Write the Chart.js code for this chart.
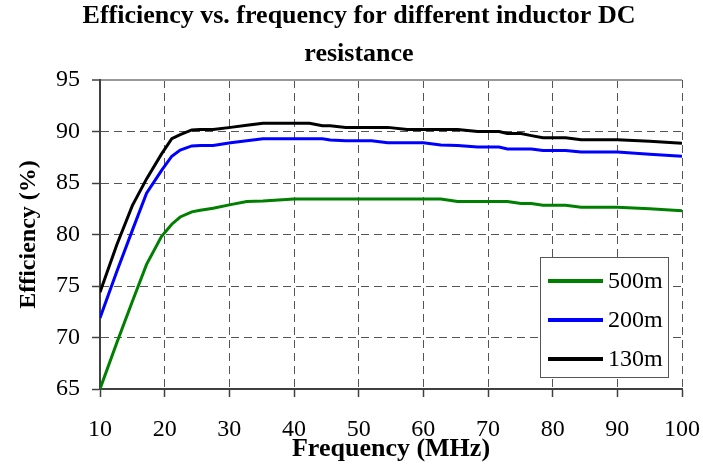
<!DOCTYPE html>
<html>
<head>
<meta charset="utf-8">
<script src="https://cdn.jsdelivr.net/npm/chart.js@4"></script>
<style>
  html, body { margin: 0; padding: 0; background: #fff; }
  #wrap { width: 703px; height: 466px; }
</style>
</head>
<body>
<div id="wrap"><canvas id="c" width="703" height="466"></canvas></div>
<script>
// ---- data ----
const titleLines = ["Efficiency vs. frequency for different inductor DC", "resistance"];
const xTitle = "Frequency (MHz)";
const yTitle = "Efficiency (%)";
const seriesNames = ["500m", "200m", "130m"];
const seriesColors = ["#008000", "#0000ff", "#000000"];

const freq = [10, 12.6, 15, 17.2, 19.5, 21.1, 22.4, 24.2, 25.5, 27.5,
              30.2, 32.7, 35.2, 40, 42.4, 44.4, 45.6, 48, 52, 54.5,
              57.5, 60, 62.7, 65.3, 68.4, 71.7, 73, 75.1, 76.7, 78.5,
              82, 84.4, 90, 95, 100];

const eff500 = [65, 69.5, 73.5, 77.1, 79.8, 81.0, 81.7, 82.2, 82.35, 82.55,
                82.9, 83.2, 83.25, 83.45, 83.45, 83.45, 83.45, 83.45, 83.45, 83.45,
                83.45, 83.45, 83.45, 83.2, 83.2, 83.2, 83.2, 83.0, 83.0, 82.85,
                82.85, 82.65, 82.65, 82.5, 82.3];

const eff200 = [71.9, 76.4, 80.4, 84.0, 86.2, 87.6, 88.2, 88.6, 88.65, 88.65,
                88.9, 89.1, 89.3, 89.3, 89.3, 89.3, 89.17, 89.1, 89.1, 88.9,
                88.9, 88.9, 88.7, 88.65, 88.5, 88.5, 88.3, 88.3, 88.3, 88.15,
                88.15, 88.0, 88.0, 87.8, 87.6];

const eff130 = [74.4, 79.0, 82.8, 85.4, 87.8, 89.3, 89.7, 90.15, 90.2, 90.2,
                90.4, 90.6, 90.8, 90.8, 90.8, 90.55, 90.55, 90.4, 90.4, 90.4,
                90.2, 90.2, 90.2, 90.2, 90.0, 90.0, 89.8, 89.8, 89.6, 89.4,
                89.4, 89.2, 89.2, 89.05, 88.85];

const xMin = 10, xMax = 100, xStep = 10;
const yMin = 65, yMax = 95, yStep = 5;

// ---- chart ----
const SERIF = "'Liberation Serif', 'Times New Roman', serif";
const allSeries = [eff500, eff200, eff130];

const datasets = allSeries.map((vals, i) => ({
  label: seriesNames[i],
  data: freq.map((f, j) => ({ x: f, y: vals[j] })),
  borderColor: seriesColors[i],
  backgroundColor: seriesColors[i],
  borderWidth: 3,
  pointRadius: 0,
  tension: 0,
  fill: false
}));

const boxLegend = {
  id: 'boxLegend',
  afterDraw(chart) {
    const ctx = chart.ctx;
    const a = chart.chartArea;
    const left = a.right - 142, top = a.top + 177, w = 128, h = 120;
    ctx.save();
    ctx.fillStyle = '#ffffff';
    ctx.fillRect(left, top, w, h);
    ctx.strokeStyle = '#555555';
    ctx.lineWidth = 1;
    ctx.strokeRect(left + 0.5, top + 0.5, w, h);
    ctx.font = '24px ' + SERIF;
    ctx.textBaseline = 'middle';
    ctx.textAlign = 'left';
    chart.data.datasets.forEach((ds, i) => {
      const y = top + 24 + i * 39;
      ctx.strokeStyle = ds.borderColor;
      ctx.lineWidth = 4;
      ctx.beginPath();
      ctx.moveTo(left + 8, y);
      ctx.lineTo(left + 63, y);
      ctx.stroke();
      ctx.fillStyle = '#000';
      ctx.fillText(ds.label, left + 68, y + 1);
    });
    ctx.restore();
  }
};

const shiftTitle = {
  id: 'shiftTitle',
  afterLayout(chart) {
    if (chart.titleBlock) {
      chart.titleBlock.left += 18;
      chart.titleBlock.right += 18;
    }
  }
};

new Chart(document.getElementById('c'), {
  type: 'line',
  data: { datasets },
  plugins: [shiftTitle, boxLegend],
  options: {
    responsive: false,
    animation: false,
    devicePixelRatio: 1,
    layout: { padding: { left: 0, right: 21, top: 0, bottom: 0 } },
    plugins: {
      legend: { display: false },
      tooltip: { enabled: false },
      title: {
        display: true,
        text: titleLines,
        color: '#000',
        font: { family: SERIF, size: 26, weight: 'bold', lineHeight: '38px' },
        padding: { top: -3, bottom: 7 }
      }
    },
    scales: {
      x: {
        type: 'linear',
        min: xMin, max: xMax,
        afterFit(s) { s.height = 77; s.paddingRight = 5; s.paddingLeft = 5; },
        ticks: {
          stepSize: xStep,
          color: '#000',
          font: { family: SERIF, size: 24 },
          padding: 18,
          maxRotation: 0
        },
        grid: {
          color: '#555',
          lineWidth: 1,
          tickLength: 8,
          tickColor: '#404040',
          tickWidth: 1.5
        },
        border: { display: true, color: '#404040', width: 2, dash: [8, 5] },
        title: {
          display: true,
          text: xTitle,
          color: '#000',
          font: { family: SERIF, size: 26, weight: 'bold' },
          padding: { top: 0, bottom: 1 }
        }
      },
      y: {
        type: 'linear',
        min: yMin, max: yMax,
        afterFit(s) { s.width = 100; },
        ticks: {
          stepSize: yStep,
          color: '#000',
          font: { family: SERIF, size: 24 },
          padding: 12
        },
        grid: {
          color: (c) => (c.tick && c.tick.value === yMax) ? '#999' : '#555',
          lineWidth: (c) => (c.tick && c.tick.value === yMax) ? 2 : 1,
          tickLength: 8,
          tickColor: '#404040',
          tickWidth: 1.5
        },
        border: {
          display: true, color: '#404040', width: 2,
          dash: (c) => (c.tick && c.tick.value === yMax) ? [] : [8, 5]
        },
        title: {
          display: true,
          text: yTitle,
          color: '#000',
          font: { family: SERIF, size: 24, weight: 'bold' },
          padding: { top: 14, bottom: 0 }
        }
      }
    }
  }
});
</script>
</body>
</html>
